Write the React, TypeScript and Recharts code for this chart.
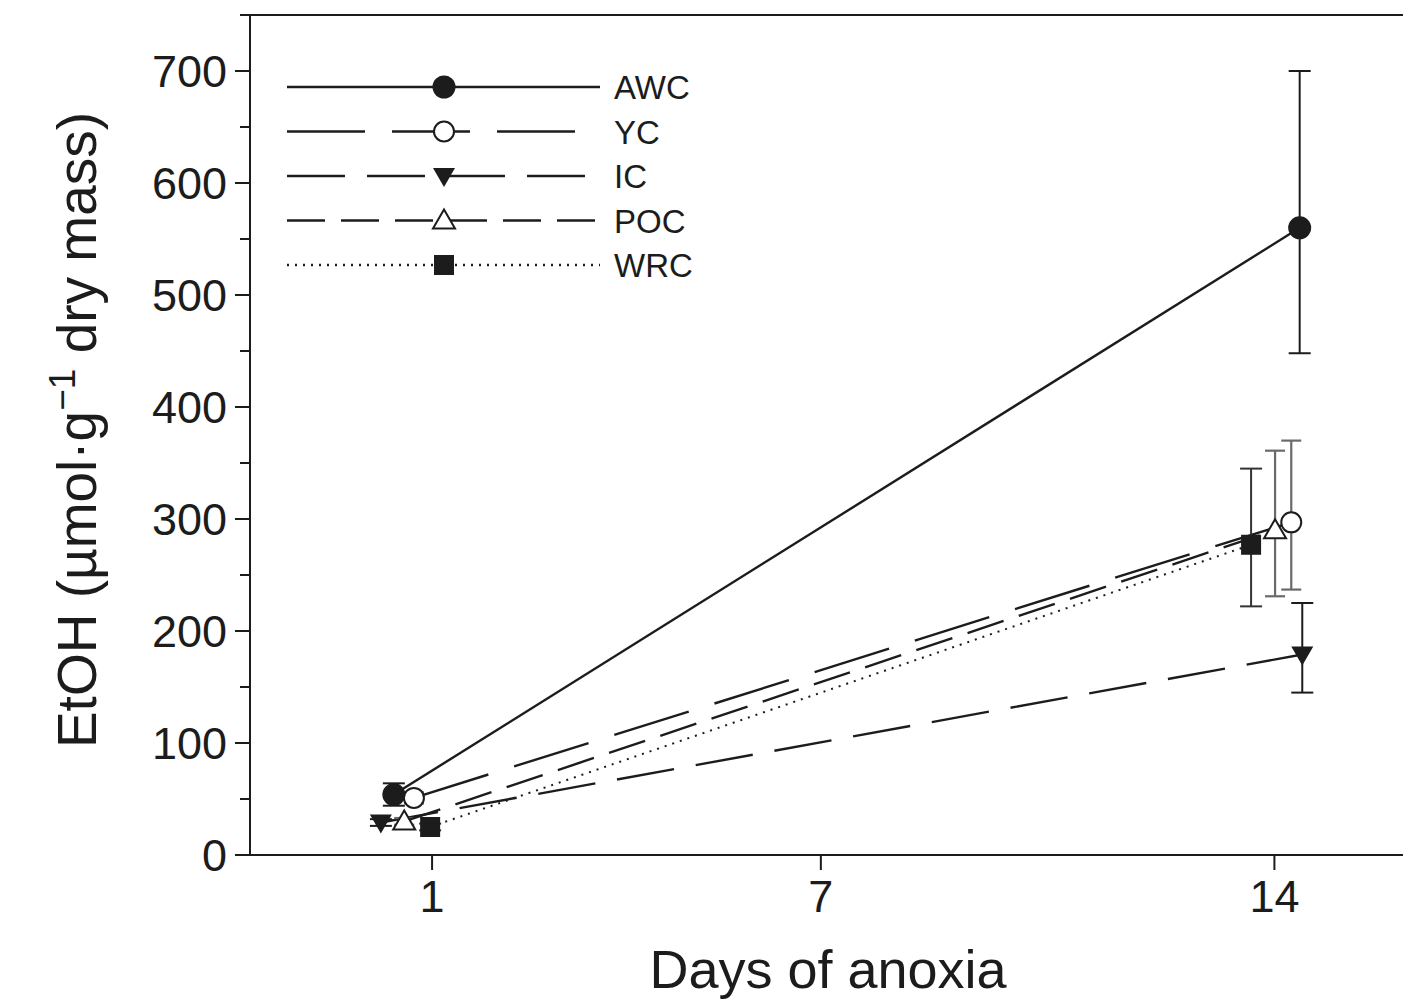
import React from "react";
import {
  ComposedChart,
  Line,
  XAxis,
  YAxis,
  ErrorBar,
  ReferenceLine,
  Label,
} from "recharts";

// days of anoxia (points are nudged sideways around day 1 and day 14, as in the figure)
const xTicks = [1, 7, 14];
const yTicks = [0, 50, 100, 150, 200, 250, 300, 350, 400, 450, 500, 550, 600, 650, 700, 750];
const yLabelTicks = [0, 100, 200, 300, 400, 500, 600, 700];

const awcDays = [0.41, 14.39];
const awcEtoh = [54, 560];
const awcErr = [[10, 10], [112, 140]];

const ycDays = [0.72, 14.26];
const ycEtoh = [51, 297];
const ycErr = [[5, 5], [60, 73]];

const icDays = [0.21, 14.43];
const icEtoh = [29, 179];
const icErr = [[3, 3], [34, 46]];

const pocDays = [0.57, 14.01];
const pocEtoh = [30, 290];
const pocErr = [[3, 3], [59, 71]];

const wrcDays = [0.97, 13.64];
const wrcEtoh = [25, 277];
const wrcErr = [[3, 3], [55, 68]];

const ink = "#1c1c1c";
const font = "'Liberation Sans', Arial, sans-serif";

const toRows = (xs: number[], ys: number[], errs: number[][]) =>
  xs.map((x, i) => ({ x, y: ys[i], err: errs[i] }));

const awcData = toRows(awcDays, awcEtoh, awcErr);
const ycData = toRows(ycDays, ycEtoh, ycErr);
const icData = toRows(icDays, icEtoh, icErr);
const pocData = toRows(pocDays, pocEtoh, pocErr);
const wrcData = toRows(wrcDays, wrcEtoh, wrcErr);

type MarkerKind = "circle" | "openCircle" | "triDown" | "openTriUp" | "square";

const Marker = ({ kind, cx, cy }: { kind: MarkerKind; cx: number; cy: number }) => {
  if (kind === "circle") return <circle cx={cx} cy={cy} r={11.5} fill={ink} />;
  if (kind === "openCircle")
    return <circle cx={cx} cy={cy} r={10} fill="#fff" stroke={ink} strokeWidth={2} />;
  if (kind === "triDown")
    return (
      <polygon
        points={`${cx - 11},${cy - 8} ${cx + 11},${cy - 8} ${cx},${cy + 11}`}
        fill={ink}
      />
    );
  if (kind === "openTriUp")
    return (
      <polygon
        points={`${cx - 11},${cy + 8} ${cx + 11},${cy + 8} ${cx},${cy - 11}`}
        fill="#fff"
        stroke={ink}
        strokeWidth={2}
      />
    );
  return <rect x={cx - 10} y={cy - 10} width={20} height={20} fill={ink} />;
};

const dotOf = (kind: MarkerKind) => (p: any) =>
  <Marker key={`${kind}-${p.index}`} kind={kind} cx={p.cx} cy={p.cy} />;

const legendRows: { name: string; kind: MarkerKind; dash: string }[] = [
  { name: "AWC", kind: "circle", dash: "" },
  { name: "YC", kind: "openCircle", dash: "78 27" },
  { name: "IC", kind: "triDown", dash: "58 22" },
  { name: "POC", kind: "openTriUp", dash: "38 16" },
  { name: "WRC", kind: "square", dash: "2 6" },
];

const YTick = (props: any) => {
  const { x, y, payload } = props;
  const major = yLabelTicks.includes(payload.value);
  return (
    <g>
      <line x1={major ? x + 8 : x + 13} y1={y} x2={x + 23} y2={y} stroke={ink} strokeWidth={2} />
      {major && (
        <text x={x} y={y} dy={16} textAnchor="end" fontSize={45} fill={ink} fontFamily={font}>
          {payload.value}
        </text>
      )}
    </g>
  );
};

const YTitle = () => (
  <text
    transform="translate(88,422) rotate(-90)"
    textAnchor="middle"
    fontSize={55}
    fill={ink}
    fontFamily={font}
  >
    EtOH (µmol·g
    <tspan dy={-21} fontSize={37}>−1</tspan>
    <tspan dy={21}> dry mass)</tspan>
  </text>
);

const XTitle = () => (
  <text x={820} y={980} textAnchor="middle" fontSize={54} fill={ink} fontFamily={font}>
    Days of anoxia
  </text>
);

const ChartLegend = () => (
  <svg
    width={440}
    height={240}
    style={{ position: "absolute", left: 270, top: 50 }}
  >
    {legendRows.map((r, i) => {
      const cy = 29 + i * 44.5;
      return (
        <g key={r.name}>
          <line
            x1={9}
            y1={cy}
            x2={322}
            y2={cy}
            stroke={ink}
            strokeWidth={2.4}
            strokeDasharray={r.dash || undefined}
          />
          <Marker kind={r.kind} cx={166} cy={cy} />
          <text x={336} y={cy + 12} fontSize={33} fill={ink} fontFamily={font}>
            {r.name}
          </text>
        </g>
      );
    })}
  </svg>
);

const App = () => {
  return (
    <div style={{ position: "relative", width: 1400, height: 994 }}>
      <ComposedChart
        width={1400}
        height={994}
        margin={{ top: 7, right: 4, left: 0, bottom: 0 }}
      >
        <XAxis
          type="number"
          dataKey="x"
          domain={[-1.81, 16]}
          allowDataOverflow
          ticks={xTicks}
          interval={0}
          height={147}
          tickSize={15}
          tickMargin={10}
          axisLine={{ stroke: ink, strokeWidth: 2 }}
          tickLine={{ stroke: ink, strokeWidth: 2 }}
          tick={{ fontSize: 45, fill: ink, fontFamily: font }}
        >
          <Label content={XTitle} />
        </XAxis>
        <YAxis
          type="number"
          domain={[0, 750]}
          ticks={yTicks}
          interval={0}
          width={242}
          tickSize={15}
          tickMargin={8}
          tickLine={false}
          axisLine={{ stroke: ink, strokeWidth: 2 }}
          tick={<YTick />}
        >
          <Label content={YTitle} />
        </YAxis>
        <ReferenceLine y={750} stroke={ink} strokeWidth={2} />
        <ReferenceLine x={16} stroke={ink} strokeWidth={2} />

        <Line
          data={awcData}
          dataKey="y"
          stroke={ink}
          strokeWidth={2.4}
          dot={dotOf("circle")}
          isAnimationActive={false}
        >
          <ErrorBar dataKey="err" direction="y" width={11} stroke={ink} strokeWidth={2} />
        </Line>
        <Line
          data={ycData}
          dataKey="y"
          stroke={ink}
          strokeWidth={2.4}
          strokeDasharray="78 27"
          dot={dotOf("openCircle")}
          isAnimationActive={false}
        >
          <ErrorBar dataKey="err" direction="y" width={10} stroke="#6a6a6a" strokeWidth={2.2} />
        </Line>
        <Line
          data={icData}
          dataKey="y"
          stroke={ink}
          strokeWidth={2.4}
          strokeDasharray="58 22"
          dot={dotOf("triDown")}
          isAnimationActive={false}
        >
          <ErrorBar dataKey="err" direction="y" width={11} stroke={ink} strokeWidth={2} />
        </Line>
        <Line
          data={pocData}
          dataKey="y"
          stroke={ink}
          strokeWidth={2.4}
          strokeDasharray="38 16"
          dot={dotOf("openTriUp")}
          isAnimationActive={false}
        >
          <ErrorBar dataKey="err" direction="y" width={10} stroke="#6a6a6a" strokeWidth={2.2} />
        </Line>
        <Line
          data={wrcData}
          dataKey="y"
          stroke={ink}
          strokeWidth={2}
          strokeDasharray="2 6"
          dot={dotOf("square")}
          isAnimationActive={false}
        >
          <ErrorBar dataKey="err" direction="y" width={11} stroke="#333" strokeWidth={2} />
        </Line>
      </ComposedChart>
      <ChartLegend />
    </div>
  );
};

export default App;
